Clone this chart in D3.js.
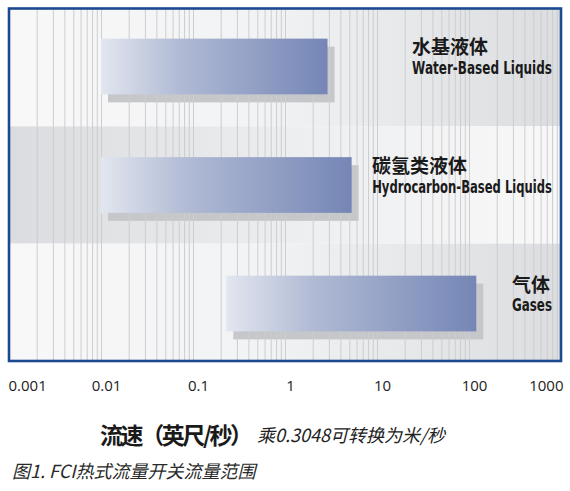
<!DOCTYPE html>
<html>
<head>
<meta charset="utf-8">
<script src="https://cdn.jsdelivr.net/npm/d3@7"></script>
<style>
    html, body { margin: 0; padding: 0; background: #ffffff; }
    svg { display: block; }
    .tick-label { font-family: "Open Sans", "Noto Sans", sans-serif; font-size: 15px; fill: #222222; }
    .cat-cn { font-family: "Noto Sans CJK SC", sans-serif; font-weight: 700; font-size: 19px; fill: #1a1a1a; }
    .cat-en { font-family: "Liberation Sans Narrow", "DejaVu Sans Condensed", "Roboto Condensed", "Liberation Sans", sans-serif;
              font-stretch: condensed; font-weight: 700; font-size: 17px; fill: #1a1a1a; }
</style>
</head>
<body>
<svg id="chart" width="570" height="491"></svg>
<script>
// values (feet per second)
const categories = ['水基液体', '碳氢类液体', '气体'];
const categoriesEn = ['Water-Based Liquids', 'Hydrocarbon-Based Liquids', 'Gases'];
const lowValues = [0.01, 0.01, 0.23];
const highValues = [2.9, 5.3, 120];
const tickValues = [0.001, 0.01, 0.1, 1, 10, 100, 1000];
const tickLabels = ['0.001', '0.01', '0.1', '1', '10', '100', '1000'];
const axisTitle = '流速（英尺/秒）';
const axisNote = '乘0.3048可转换为米/秒';
const caption = '图1. FCI热式流量开关流量范围';

const svg = d3.select('#chart');
const m = {left: 9, right: 561, top: 9, bottom: 361};

const x = d3.scaleLog()
    .domain([tickValues[0], tickValues[tickValues.length - 1]])
    .range([m.left, m.right]);

// background bands, one per category
const band = d3.scaleBand()
    .domain(categories)
    .range([m.top, m.bottom]);

// bars sit in the middle of each band
const y = d3.scaleBand()
    .domain(categories)
    .range([m.top, m.bottom])
    .paddingInner(0.53)
    .paddingOuter(0.25);

const defs = svg.append('defs');

function gradient(id, stops) {
    const g = defs.append('linearGradient')
        .attr('id', id)
        .attr('x1', '0%').attr('x2', '100%')
        .attr('y1', '0%').attr('y2', '0%');
    stops.forEach(s => {
        g.append('stop').attr('offset', s[0]).attr('stop-color', s[1]);
    });
}
gradient('bandA', [['0%', '#f8f8f9'], ['45%', '#f2f3f4'], ['100%', '#dcdde0']]);
gradient('bandB', [['0%', '#dbdcdf'], ['55%', '#eeeff0'], ['100%', '#f8f8f9']]);
gradient('barFill', [['0%', '#e2e6ef'], ['35%', '#b0bad4'], ['100%', '#7586b6']]);

const plot = svg.append('g');

plot.selectAll('rect.band')
    .data(categories)
    .enter()
    .append('rect')
    .attr('class', 'band')
    .attr('x', m.left)
    .attr('y', d => band(d))
    .attr('width', m.right - m.left)
    .attr('height', band.bandwidth())
    .attr('fill', (d, i) => i % 2 ? 'url(#bandB)' : 'url(#bandA)');

// shadows go under the grid, bars over it
plot.selectAll('rect.shadow')
    .data(categories)
    .enter()
    .append('rect')
    .attr('class', 'shadow')
    .attr('x', (d, i) => x(lowValues[i]) + 7)
    .attr('y', d => y(d) + 8)
    .attr('width', (d, i) => x(highValues[i]) - x(lowValues[i]))
    .attr('height', y.bandwidth())
    .attr('fill', '#c6c7ca');

plot.selectAll('line.grid')
    .data(x.ticks())
    .enter()
    .append('line')
    .attr('class', 'grid')
    .attr('x1', d => x(d) + 0.5)
    .attr('x2', d => x(d) + 0.5)
    .attr('y1', m.top)
    .attr('y2', m.bottom)
    .attr('stroke', '#cdcdcf')
    .attr('stroke-width', 1);

plot.selectAll('rect.bar')
    .data(categories)
    .enter()
    .append('rect')
    .attr('class', 'bar')
    .attr('x', (d, i) => x(lowValues[i]))
    .attr('y', d => y(d))
    .attr('width', (d, i) => x(highValues[i]) - x(lowValues[i]))
    .attr('height', y.bandwidth())
    .attr('fill', 'url(#barFill)');

// category labels, right aligned block, chinese line left aligned with english
// no condensed face installed, so squeeze the english line horizontally
const labelRight = 552;
const enWidth = [140, 180, 40];

const labels = plot.selectAll('g.label')
    .data(categories)
    .enter()
    .append('g')
    .attr('class', 'label');

labels.each(function(d, i) {
    const g = d3.select(this);
    const cy = y(d) + y.bandwidth() / 2;
    const en = g.append('text')
        .attr('class', 'cat-en')
        .attr('text-anchor', 'end')
        .text(categoriesEn[i]);
    const k = Math.min(1, enWidth[i] / en.node().getComputedTextLength());
    en.attr('transform', 'translate(' + labelRight + ',' + (cy + 7.5) + ') scale(' + k + ',1)');
    g.append('text')
        .attr('class', 'cat-cn')
        .attr('x', labelRight - enWidth[i])
        .attr('y', cy - 12)
        .text(d);
});

// frame
svg.append('rect')
    .attr('x', m.left)
    .attr('y', m.top - 0.5)
    .attr('width', m.right - m.left)
    .attr('height', m.bottom - m.top + 0.5)
    .attr('fill', 'none')
    .attr('stroke', '#1b4a8e')
    .attr('stroke-width', 2.6);

// x axis labels
const axis = d3.axisBottom(x)
    .tickValues(tickValues)
    .tickFormat((d, i) => tickLabels[i])
    .tickSize(0)
    .tickPadding(0);

const axisG = svg.append('g')
    .attr('transform', 'translate(0,' + 391 + ')')
    .call(axis);
axisG.select('.domain').remove();
axisG.selectAll('text')
    .attr('class', 'tick-label')
    .attr('dy', 0)
    .attr('y', 0)
    .attr('font-size', null)
    .attr('font-family', null)
    .attr('fill', null)
    .attr('text-anchor', (d, i) => i === 0 ? 'start' : (i === tickValues.length - 1 ? 'end' : 'middle'))
    .attr('dx', (d, i) => i === 0 ? -1 : (i === tickValues.length - 1 ? 2 : 5));

// axis title
svg.append('text')
    .attr('x', 100)
    .attr('y', 444)
    .style('font-family', '"Noto Sans CJK SC", sans-serif')
    .style('font-weight', 700)
    .style('font-size', '23px')
    .attr('fill', '#1a1a1a')
    .attr('textLength', 153)
    .attr('lengthAdjust', 'spacing')
    .text(axisTitle);

svg.append('text')
    .attr('x', 257)
    .attr('y', 442)
    .style('font-family', '"Noto Sans CJK SC", sans-serif')
    .style('font-style', 'italic')
    .style('font-size', '18px')
    .attr('fill', '#222222')
    .text(axisNote);

svg.append('text')
    .attr('x', 12)
    .attr('y', 478)
    .style('font-family', '"Noto Sans CJK SC", sans-serif')
    .style('font-style', 'italic')
    .style('font-size', '18px')
    .attr('fill', '#2a2a2a')
    .text(caption);
</script>
</body>
</html>
